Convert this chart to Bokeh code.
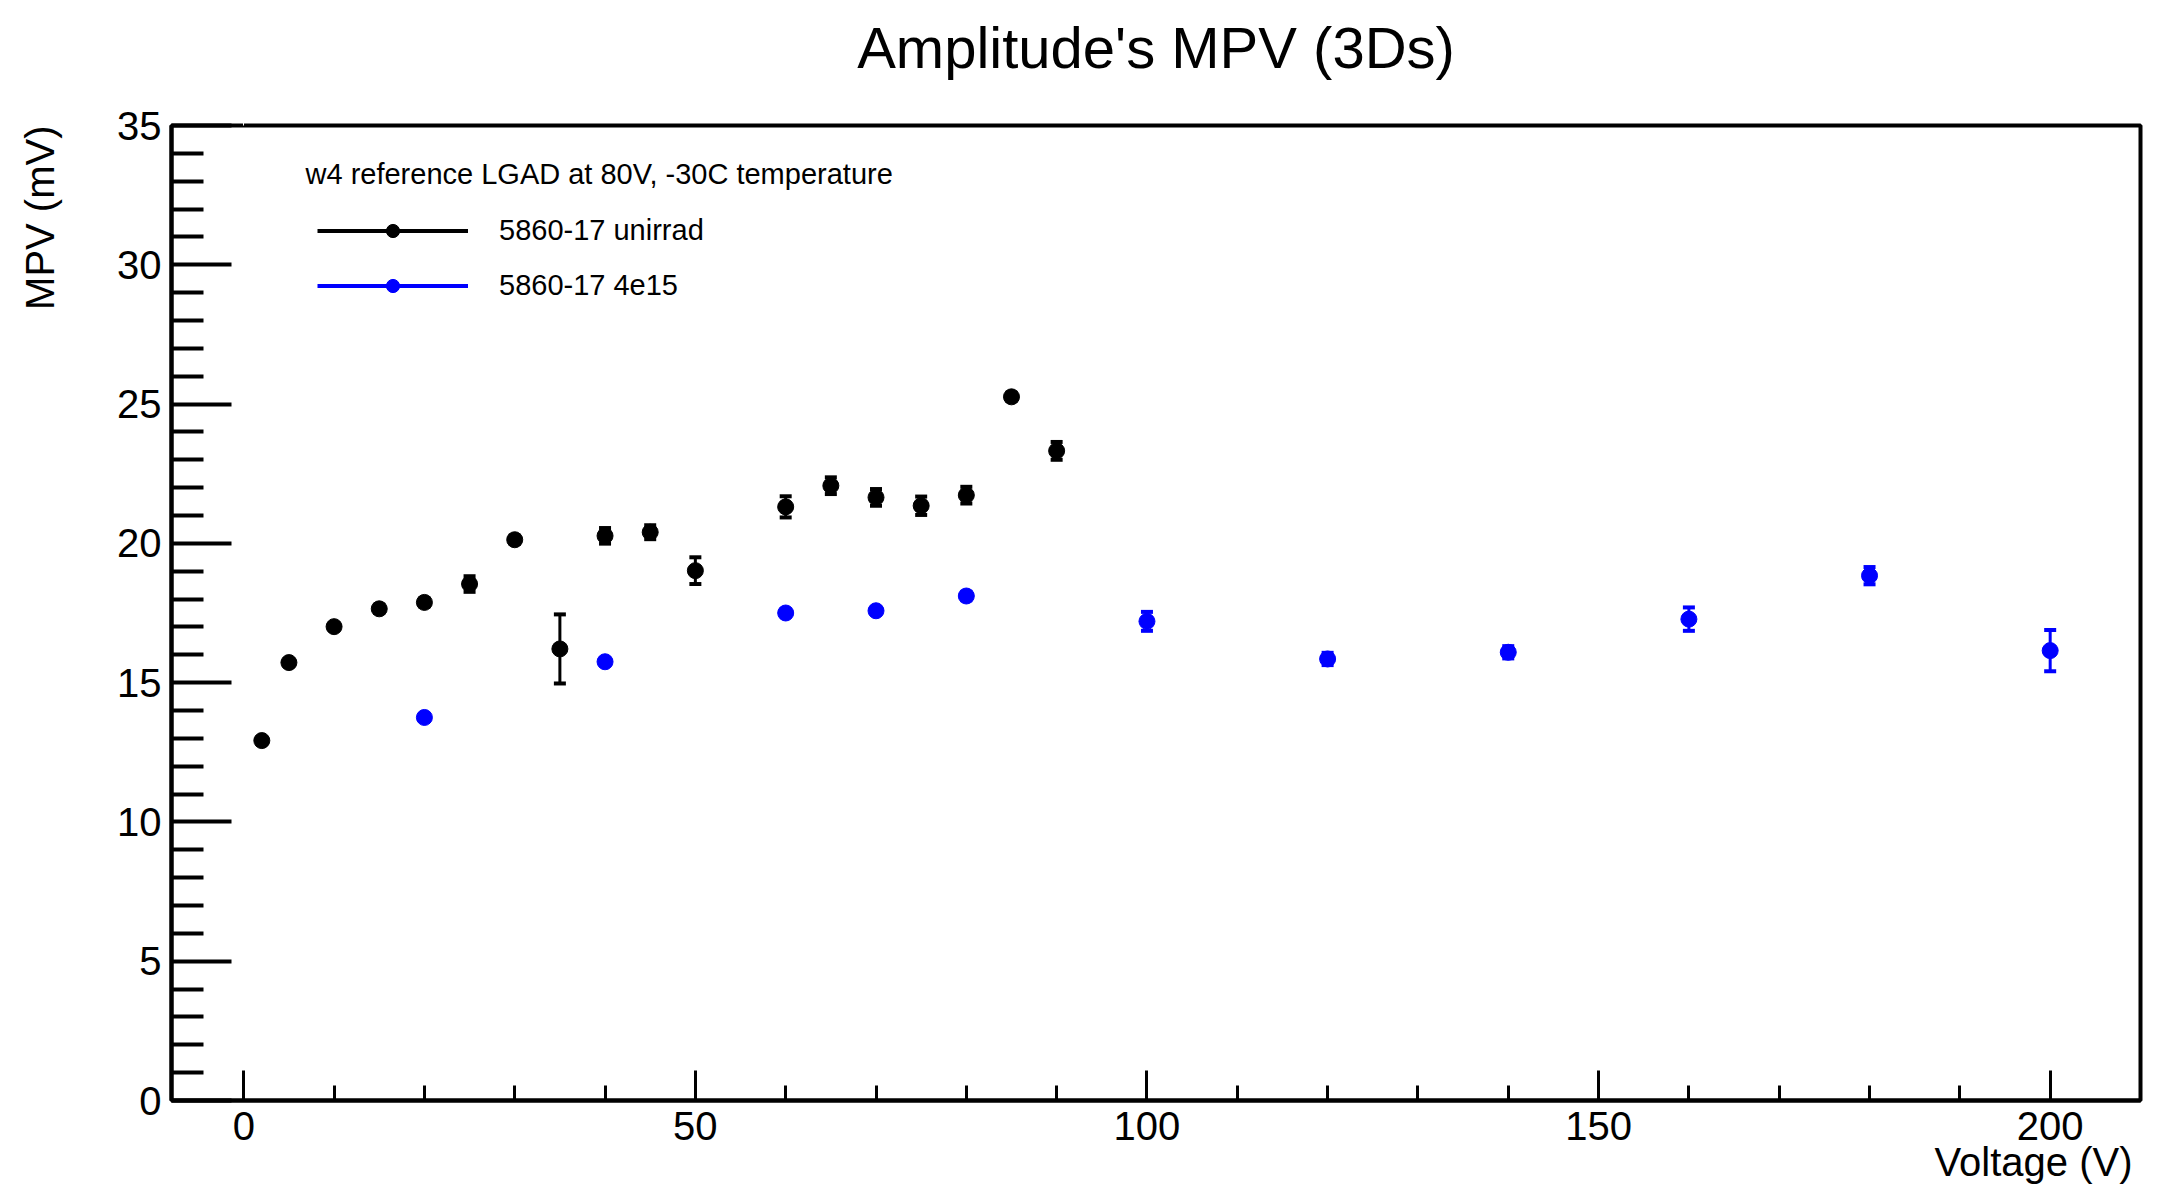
import numpy as np
from bokeh.plotting import figure
from bokeh.models import (ColumnDataSource, Whisker, TeeHead, FixedTicker, Label,
                          Legend, LegendItem, Range1d, Title, LinearAxis)
from bokeh.embed import file_html
from bokeh.resources import INLINE

# ---------------- data ----------------
title_text = "Amplitude's MPV (3Ds)"
x_label = "Voltage (V)"
y_label = "MPV (mV)"
legend_header = "w4 reference LGAD at 80V, -30C temperature"
series_names = ["5860-17 unirrad", "5860-17 4e15"]

unirrad_v = [2, 5, 10, 15, 20, 25, 30, 35, 40, 45, 50, 60, 65, 70, 75, 80, 85, 90]
unirrad_mpv = [12.92, 15.72, 17.01, 17.65, 17.88, 18.54, 20.13, 16.21, 20.27, 20.40,
               19.02, 21.31, 22.07, 21.65, 21.35, 21.73, 25.26, 23.32]
unirrad_err = [0.12, 0.12, 0.12, 0.15, 0.15, 0.28, 0.15, 1.24, 0.28, 0.25,
               0.48, 0.38, 0.30, 0.30, 0.33, 0.30, 0.15, 0.32]

irr_v = [20, 40, 60, 70, 80, 100, 120, 140, 160, 180, 200]
irr_mpv = [13.75, 15.75, 17.50, 17.58, 18.11, 17.20, 15.85, 16.09, 17.28, 18.84, 16.15]
irr_err = [0.12, 0.12, 0.12, 0.12, 0.15, 0.34, 0.22, 0.22, 0.42, 0.31, 0.74]

x_major_ticks = [0, 50, 100, 150, 200]
x_minor_ticks = [10, 20, 30, 40, 60, 70, 80, 90, 110, 120, 130, 140,
                 160, 170, 180, 190, 210]
y_major_ticks = [0, 5, 10, 15, 20, 25, 30, 35]
y_minor_ticks = [1, 2, 3, 4, 6, 7, 8, 9, 11, 12, 13, 14, 16, 17, 18, 19,
                 21, 22, 23, 24, 26, 27, 28, 29, 31, 32, 33, 34]

x_range = (-8, 210)
y_range = (0, 35)

colors = ["#000000", "#0000ff"]
FONT = "Liberation Sans"


def spacer_axis(size, at):
    """A blank axis (one white tick, no line, no labels) that only reserves space."""
    return LinearAxis(ticker=FixedTicker(ticks=[at], minor_ticks=[]),
                      major_tick_out=size, major_tick_in=0,
                      minor_tick_out=0, minor_tick_in=0,
                      major_tick_line_color="white", major_tick_line_width=1,
                      major_label_text_color=None, major_label_standoff=0,
                      axis_line_color=None)


# ---------------- figure ----------------
p = figure(width=2158, height=1189, output_backend="svg", toolbar_location=None,
           x_range=Range1d(*x_range), y_range=Range1d(*y_range),
           min_border_left=171, min_border_right=18, min_border_top=125,
           min_border_bottom=89, title=None)
p.background_fill_color = "white"
p.border_fill_color = "white"
p.outline_line_color = "black"
p.outline_line_width = 4
p.xgrid.visible = False
p.ygrid.visible = False

# real axes (grab them before any spacer axis is added)
xa = p.below[0]
ya = p.left[0]

xa.ticker = FixedTicker(ticks=x_major_ticks, minor_ticks=x_minor_ticks)
xa.axis_line_width = 4
xa.major_tick_in = 30
xa.major_tick_out = 0
xa.minor_tick_in = 15
xa.minor_tick_out = 0
xa.major_tick_line_width = 3
xa.minor_tick_line_width = 3
xa.major_label_text_font = FONT
xa.major_label_text_font_size = "40px"
xa.major_label_text_color = "black"
xa.major_label_standoff = 11

ya.ticker = FixedTicker(ticks=y_major_ticks, minor_ticks=y_minor_ticks)
ya.axis_line_width = 4
ya.major_tick_in = 60
ya.major_tick_out = 0
ya.minor_tick_in = 32
ya.minor_tick_out = 0
ya.major_tick_line_width = 4
ya.minor_tick_line_width = 4
ya.major_label_text_font = FONT
ya.major_label_text_font_size = "40px"
ya.major_label_text_color = "black"
ya.major_label_standoff = 10

# title: spacer between frame and title, then the title itself
p.add_layout(spacer_axis(46, x_major_ticks[0]), "above")
p.add_layout(Title(text=title_text, align="center", text_font=FONT,
                   text_font_size="58px", text_font_style="normal",
                   text_color="black", standoff=0), "above")

# axis titles (ROOT style, right-aligned)
p.add_layout(Title(text=x_label, align="right", text_font=FONT,
                   text_font_size="40px", text_font_style="normal",
                   text_color="black", standoff=-10, offset=8), "below")
p.add_layout(spacer_axis(53, y_major_ticks[0]), "left")
p.add_layout(Title(text=y_label, align="right",
                   text_font=FONT, text_font_size="40px", text_font_style="normal",
                   text_color="black", standoff=0), "left")

# ---------------- series ----------------
legend_items = []
for name, xs, ys, es, col in [
    (series_names[0], unirrad_v, unirrad_mpv, unirrad_err, colors[0]),
    (series_names[1], irr_v, irr_mpv, irr_err, colors[1]),
]:
    src = ColumnDataSource(dict(
        x=xs, y=ys,
        upper=[a + b for a, b in zip(ys, es)],
        lower=[a - b for a, b in zip(ys, es)],
    ))
    w = Whisker(source=src, base="x", upper="upper", lower="lower",
                line_color=col, line_width=3,
                upper_head=TeeHead(size=12, line_color=col, line_width=4),
                lower_head=TeeHead(size=12, line_color=col, line_width=4))
    p.add_layout(w)
    sc = p.scatter("x", "y", source=src, marker="circle", size=16,
                   fill_color=col, line_color=col)
    # legend-only line (ROOT "LP" legend style): NaN data, nothing drawn in the plot
    ln = p.line(x=np.array([np.nan]), y=np.array([np.nan]),
                line_color=col, line_width=4)
    legend_items.append(LegendItem(label=name, renderers=[ln, sc]))

legend = Legend(items=legend_items, location=(146, 795),
                border_line_color=None, background_fill_alpha=0,
                padding=0, margin=0, spacing=15,
                glyph_width=151, glyph_height=33, label_height=40,
                label_standoff=31, label_text_font=FONT, label_text_color="black",
                label_text_font_size="29px", label_text_baseline="middle")
p.add_layout(legend)

p.add_layout(Label(x=134, y=927, x_units="screen", y_units="screen",
                   text=legend_header, text_align="left", text_baseline="middle",
                   text_font=FONT, text_font_size="29px", text_color="black"))

open("out.html", "w").write(file_html(p, INLINE))
